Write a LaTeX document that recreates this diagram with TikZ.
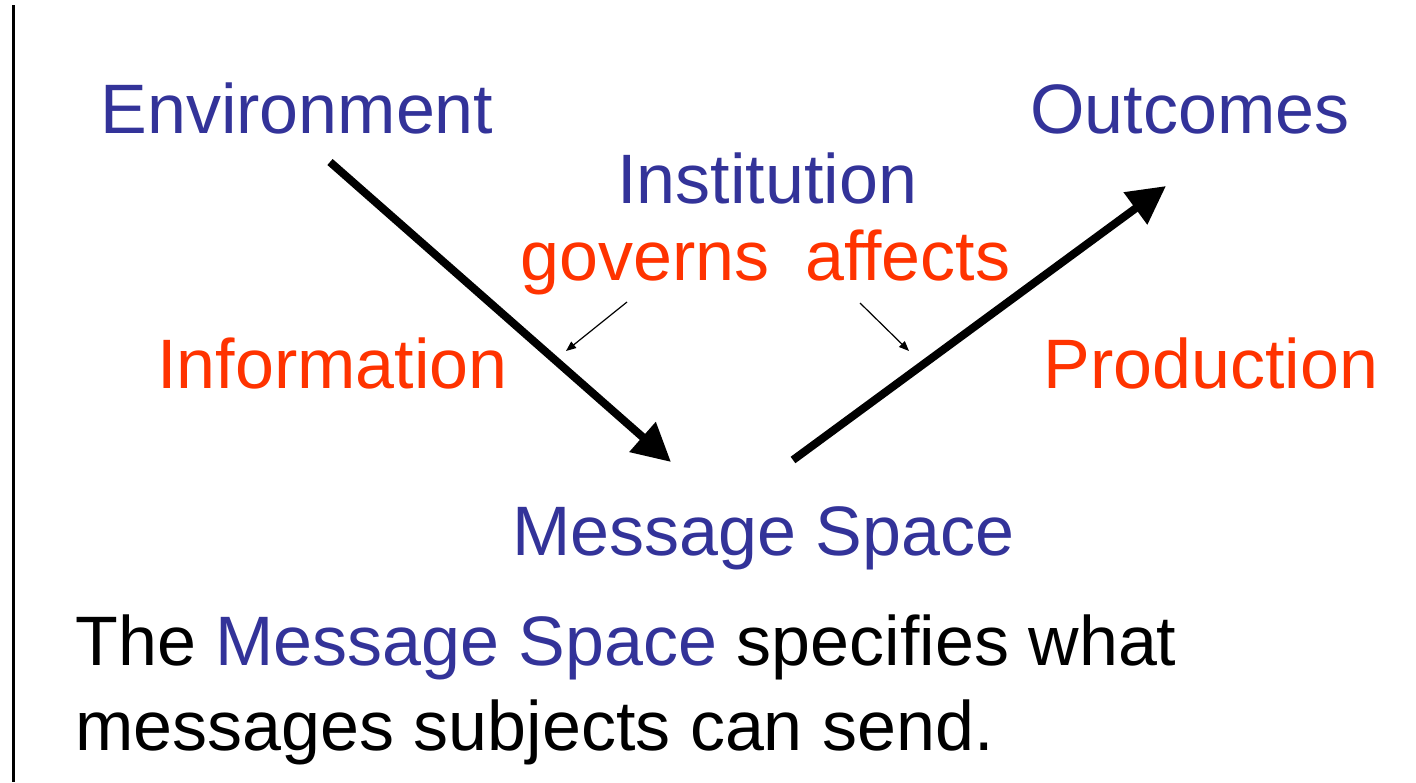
\documentclass[tikz,border=0pt]{standalone}
\usepackage{fontspec}
\setmainfont{Liberation Sans}
\usetikzlibrary{arrows.meta}
\definecolor{msblue}{RGB}{51,51,153}
\definecolor{msred}{RGB}{255,51,0}
\newcommand{\bigfont}{\fontsize{35}{41}\selectfont}

\begin{document}
\begin{tikzpicture}[x=0.5pt,y=-0.5pt,
    bluetext/.style={text=msblue,font=\bigfont,inner sep=0,anchor=base west},
    redtext/.style={text=msred,font=\bigfont,inner sep=0,anchor=base west},
    plaintext/.style={text=black,font=\bigfont,inner sep=0,anchor=base west},
    thick arrow/.style={line width=4pt,-{Triangle[length=19pt,width=19pt]}},
    thin arrow/.style={line width=0.6pt,-{Triangle[length=5pt,width=4pt]}}]
  \useasboundingbox (0,0) rectangle (1416,782);
  \draw[line width=1.5pt] (13,5) -- (13,782);

  % the three stages
  \node[bluetext] (env) at (100,133) {Environment};
  \node[bluetext] (out) at (1030,133) {Outcomes};
  \node[bluetext] (msg) at (512,555) {Message Space};

  % the institution in the middle
  \node[bluetext] (inst) at (617,203) {Institution};
  \node[redtext] (gov) at (520,280) {governs};
  \node[redtext] (aff) at (805,280) {affects};

  \node[redtext] (info) at (157,388) {Information};
  \node[redtext] (prod) at (1043,388) {Production};

  % arrows
  \coordinate (a1) at (330,162);
  \coordinate (a2) at (671,462);
  \coordinate (b1) at (793,460);
  \coordinate (b2) at (1166,186);
  \draw[thick arrow] (a1) -- (a2);
  \draw[thick arrow] (b1) -- (b2);
  \coordinate (g1) at (627,302);
  \coordinate (g2) at (566,351);
  \coordinate (f1) at (860,303);
  \coordinate (f2) at (909,351);
  \draw[thin arrow] (g1) -- (g2);
  \draw[thin arrow] (f1) -- (f2);

  % caption text
  \node[plaintext] (cap1) at (75,665) {The \textcolor{msblue}{Message Space} specifies what};
  \node[plaintext] (cap2) at (75,750) {messages subjects can send.};
\end{tikzpicture}
\end{document}
